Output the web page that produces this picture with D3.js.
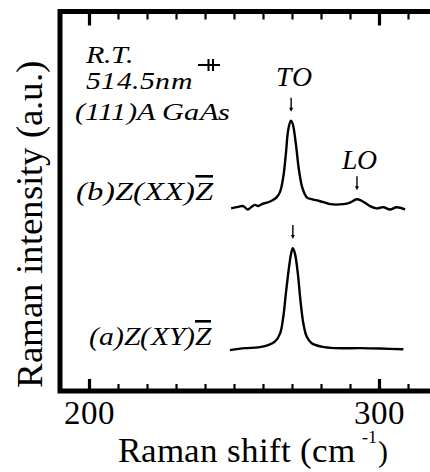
<!DOCTYPE html>
<html>
<head>
<meta charset="utf-8">
<script src="https://cdn.jsdelivr.net/npm/d3@7"></script>
<style>
  @font-face { font-family: "PlotSerif"; font-style: normal; font-weight: 400;
    src: local("Liberation Serif"), local("LiberationSerif"), local("Liberation Serif Regular"), local("LiberationSerif-Regular"); }
  @font-face { font-family: "PlotSerif"; font-style: italic; font-weight: 400;
    src: local("Liberation Serif Italic"), local("LiberationSerif-Italic"); }
</style>
</head>
<body style="margin:0;background:#fff">
<svg id="raman" width="430" height="472" style="display:block"></svg>
<script>
// Raman spectra of (111)A GaAs, two scattering geometries (arbitrary units, offset vertically)

// (a) Z(XY)Z-bar geometry
const shiftA = [248.6, 253.8, 258.4, 261.8, 264.1, 265.9, 267.0, 267.9, 269.0, 269.7, 270.3,
                271.0, 272.0, 272.9, 273.9, 275.1, 276.8, 280.2, 284.8, 293.5, 300.3, 308.4];
const intensityA = [1.08, 1.13, 1.15, 1.21, 1.30, 1.52, 1.96, 2.58, 3.28, 3.63, 3.77,
                    3.63, 3.11, 2.40, 1.79, 1.43, 1.26, 1.17, 1.13, 1.13, 1.12, 1.10];

// (b) Z(XX)Z-bar geometry
const shiftB = [249.0, 251.5, 253.2, 254.7, 256.1, 257.2, 258.4, 259.6, 261.3, 263.0, 264.7,
                265.9, 267.0, 267.9, 268.7, 269.6, 270.2, 271.3, 272.4, 273.6, 275.1, 276.8,
                279.1, 281.4, 283.1, 287.7, 290.0, 292.3, 294.0, 296.9, 299.2, 301.5, 303.8,
                306.1, 309.0];
const intensityB = [4.82, 4.86, 4.88, 4.79, 4.86, 4.91, 4.88, 4.93, 4.97, 5.02, 5.11,
                    5.26, 5.65, 6.27, 6.89, 7.13, 7.06, 6.54, 5.83, 5.35, 5.11, 5.06,
                    5.02, 4.97, 4.93, 4.93, 4.97, 5.06, 5.02, 4.88, 4.82, 4.85, 4.79,
                    4.85, 4.79];

// Phonon peak positions (cm^-1) and the spectrum they are marked on
const peakNames = ["TO", "LO", ""];
const peakShifts = [269.7, 292.4, 270.3];
const peakIntensity = [7.13, 5.06, 3.77];

// Axis ticks
const minorTicks = [190, 210, 220, 230, 240, 250, 260, 270, 280, 290, 310, 320];
const majorTicks = [200, 300];
const tickLabels = ["200", "300"];

const FONT = "PlotSerif, 'Liberation Serif', serif";
const serif = sel => sel.attr("font-family", FONT).style("font-family", FONT, "important");

const svg = d3.select("#raman");

const x = d3.scaleLinear().domain([190, 330]).range([60, 466]);
const y = d3.scaleLinear().domain([0, 10]).range([391, 12]);

const yTop = 11.5, yBottom = 391, xLeft = 60, W = 430;

// Ticks on the bottom edge (pointing inward), labels below
const bottomMajor = d3.axisBottom(x).tickValues(majorTicks).tickSizeInner(-12).tickSizeOuter(0)
  .tickPadding(10).tickFormat((d, i) => tickLabels[i]);
const bottomMinor = d3.axisBottom(x).tickValues(minorTicks).tickSizeInner(-7).tickSizeOuter(0)
  .tickFormat("");
// Ticks on the top edge (pointing inward)
const topMajor = d3.axisTop(x).tickValues(majorTicks).tickSizeInner(-14).tickSizeOuter(0).tickFormat("");
const topMinor = d3.axisTop(x).tickValues(minorTicks).tickSizeInner(-8).tickSizeOuter(0).tickFormat("");

function styleAxis(g, w) {
  g.call(serif).attr("font-size", 33);
  g.select(".domain").remove();
  g.selectAll(".tick line").attr("stroke", "#000").attr("stroke-width", w);
  g.selectAll(".tick text").call(serif).attr("font-size", 33).attr("fill", "#000");
}

svg.append("g").attr("transform", `translate(0,${yBottom})`).call(bottomMinor).call(styleAxis, 2.2);
svg.append("g").attr("transform", `translate(0,${yBottom})`).call(bottomMajor).call(styleAxis, 3.2);
svg.append("g").attr("transform", `translate(0,${yTop})`).call(topMinor).call(styleAxis, 2.2);
svg.append("g").attr("transform", `translate(0,${yTop})`).call(topMajor).call(styleAxis, 3.2);

// Frame: top, left and bottom edges
svg.append("path")
  .attr("d", `M${W},${yTop}H${xLeft}V${yBottom}H${W}`)
  .attr("fill", "none").attr("stroke", "#000").attr("stroke-width", 5)
  .attr("stroke-linejoin", "miter");

// Spectra
const line = d3.line()
  .x(d => x(d[0])).y(d => y(d[1]))
  .curve(d3.curveCatmullRom.alpha(0.5));

[[shiftA, intensityA], [shiftB, intensityB]].forEach(([s, v]) => {
  svg.append("path")
    .datum(d3.zip(s, v))
    .attr("d", line)
    .attr("fill", "none").attr("stroke", "#000")
    .attr("stroke-width", 2.4).attr("stroke-linejoin", "round");
});

// Peak markers: short down arrows above each phonon peak
const arrowGap = [10, 10, 10], arrowLen = 13;
const labelGap = [12, 7, 0];
peakShifts.forEach((s, i) => {
  const px = x(s);
  const yb = y(peakIntensity[i]) - arrowGap[i];
  const yt = yb - arrowLen;
  svg.append("line").attr("x1", px).attr("x2", px).attr("y1", yt).attr("y2", yb - 2)
    .attr("stroke", "#000").attr("stroke-width", 1.4);
  svg.append("path").attr("d", `M${px - 2},${yb - 3}L${px + 2},${yb - 3}L${px},${yb + 1}Z`)
    .attr("fill", "#000");
  if (peakNames[i]) {
    svg.append("text").attr("x", px + 3).attr("y", yt - labelGap[i])
      .call(serif)
      .attr("text-anchor", "middle").attr("font-style", "italic").attr("font-size", 27)
      .attr("textLength", 36).attr("lengthAdjust", "spacingAndGlyphs")
      .text(peakNames[i]);
  }
});

// Measurement conditions
function italicLabel(tx, ty, str, len) {
  return svg.append("text").attr("x", tx).attr("y", ty)
    .call(serif)
    .attr("font-style", "italic").attr("font-size", 25)
    .attr("textLength", len).attr("lengthAdjust", "spacingAndGlyphs")
    .text(str);
}
italicLabel(86, 63, "R.T.", 47);
italicLabel(86, 89, "514.5nm", 106);
italicLabel(75, 120, "(111)A GaAs", 155);

// Scattering geometry labels, final Z carries an overbar
function geometryLabel(tx, ty, head, len) {
  const t = svg.append("text").attr("x", tx).attr("y", ty)
    .call(serif).attr("font-style", "italic").attr("font-size", 26)
    .attr("textLength", len).attr("lengthAdjust", "spacingAndGlyphs");
  t.append("tspan").text(head);
  t.append("tspan").style("text-decoration", "overline").text("Z");
}
geometryLabel(76, 200, "(b)Z(XX)", 137);
geometryLabel(89, 345, "(a)Z(XY)", 122);

// Polarization symbol next to the laser line
const pol = svg.append("g").attr("stroke", "#000").attr("stroke-width", 2);
pol.append("line").attr("x1", 198).attr("x2", 220).attr("y1", 65).attr("y2", 65);
pol.append("line").attr("x1", 208.5).attr("x2", 208.5).attr("y1", 59).attr("y2", 71);
pol.append("line").attr("x1", 213).attr("x2", 213).attr("y1", 59).attr("y2", 71);

// Axis titles
const xt = svg.append("text").attr("x", 118).attr("y", 462)
  .call(serif).attr("font-size", 35);
xt.append("tspan").text("Raman shift (cm");
xt.append("tspan").attr("font-size", 18).attr("dx", 7).attr("dy", -19).text("-1");
xt.append("tspan").attr("font-size", 30).attr("dx", 1).attr("dy", 19).text(")");

svg.append("text")
  .attr("transform", "translate(42,224) rotate(-90)")
  .call(serif)
  .attr("text-anchor", "middle").attr("font-size", 37)
  .text("Raman intensity (a.u.)");
</script>
</body>
</html>
